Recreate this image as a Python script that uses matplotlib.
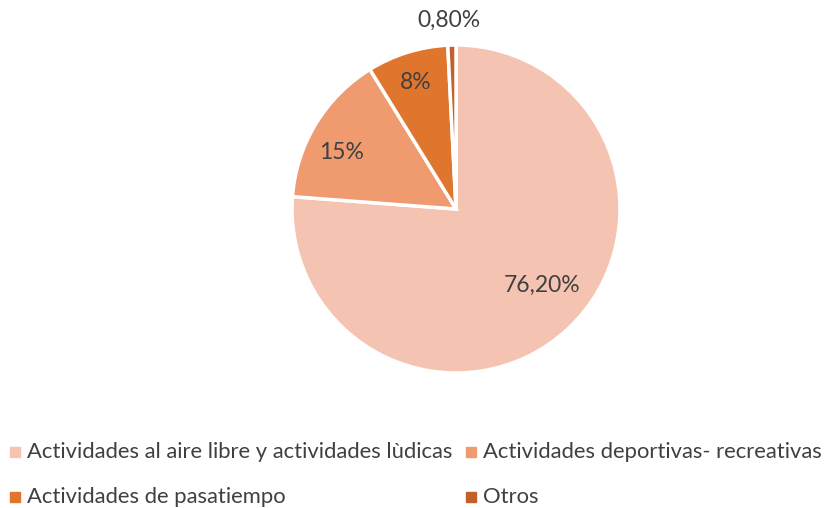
import matplotlib
matplotlib.use("Agg")
import matplotlib.pyplot as plt
from matplotlib.lines import Line2D
import numpy as np

categories = ["Actividades al aire libre y actividades lùdicas",
              "Actividades deportivas- recreativas",
              "Actividades de pasatiempo",
              "Otros"]
values = [76.2, 15, 8, 0.8]
labels = ["76,20%", "15%", "8%", "0,80%"]
colors = ["#F5C3B1", "#F09A70", "#E0762E", "#C2622A"]

plt.rcParams['font.family'] = ['Lato', 'DejaVu Sans']
W, H = 828, 508
fig = plt.figure(figsize=(W/100, H/100), dpi=100)
cx, cy, r = 456, 209, 164
ax = fig.add_axes([(cx - r)/W, (H - cy - r)/H, 2*r/W, 2*r/H])
wedges, _ = ax.pie(values, colors=colors, startangle=90, counterclock=False,
                   radius=1.0, wedgeprops=dict(edgecolor="white", linewidth=2.5))
ax.set_xlim(-1, 1); ax.set_ylim(-1, 1)
ax.set_aspect('equal')

# label placement (angle deg, radius fraction)
label_pos = [(-41.8, 0.70), (153.6, 0.78), (107.5, 0.81), (92.1, 1.15)]
for lab, (ang, rf) in zip(labels, label_pos):
    a = np.deg2rad(ang)
    ax.text(rf*np.cos(a), rf*np.sin(a), lab, ha="center", va="center",
            fontsize=16.5, color="#404040", clip_on=False)

# legend, row-major, two columns
col_x = [15, 471]
row_y = [452, 497]
for i, (cat, c) in enumerate(zip(categories, colors)):
    x = col_x[i % 2]
    y = row_y[i // 2]
    fig.add_artist(Line2D([x/W], [1 - y/H], marker="s", markersize=7,
                          linestyle="none", markerfacecolor=c,
                          markeredgecolor=c, transform=fig.transFigure))
    fig.text((x + 12)/W, 1 - y/H, cat, ha="left", va="center",
             fontsize=15.8, color="#404040")
fig.savefig("out.png", dpi=100)
